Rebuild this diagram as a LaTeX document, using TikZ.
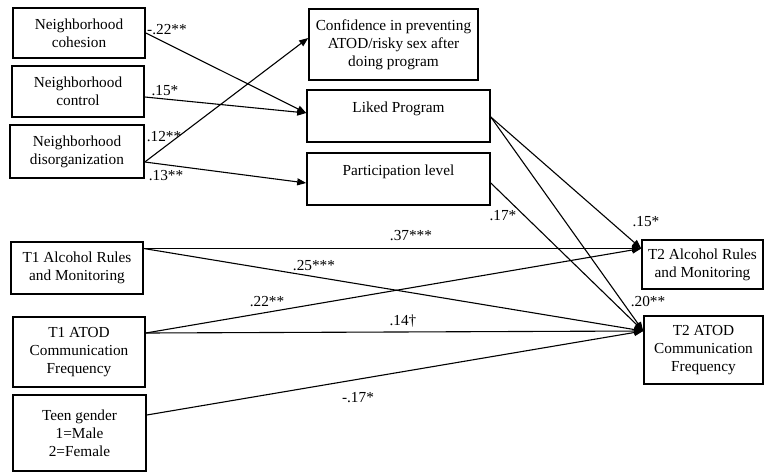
\documentclass[tikz,border=0pt]{standalone}
\usepackage{fontspec}
\setmainfont{Liberation Serif}
\usetikzlibrary{arrows.meta}
\begin{document}
\begin{tikzpicture}[x=1pt,y=-1pt,
  box/.style={draw, line width=1.6pt, align=center, inner sep=0pt,
    font=\fontsize{15.3}{18}\selectfont},
  pth/.style={-{Triangle[length=9pt,width=7pt]}, line width=1.1pt},
  coef/.style={font=\fontsize{15.3}{18}\selectfont, inner sep=0pt}]
\useasboundingbox (0,0) rectangle (766,472);
% left column
\node[box, minimum width=132pt, minimum height=50pt] (coh) at (79,33) {Neighborhood\\cohesion};
\node[box, minimum width=132pt, minimum height=51pt] (ctl) at (78,91.5) {Neighborhood\\control};
\node[box, minimum width=134pt, minimum height=53pt] (dis) at (77,151.5) {Neighborhood\\disorganization};
\node[box, minimum width=132pt, minimum height=52pt] (t1alc) at (77,268) {T1 Alcohol Rules\\and Monitoring};
\node[box, minimum width=132pt, minimum height=70pt] (t1atod) at (79,352) {T1 ATOD\\Communication\\Frequency};
\node[box, minimum width=133pt, minimum height=76pt] (gen) at (79.5,433) {Teen gender\\1=Male\\2=Female};
% middle column
\node[box, minimum width=169pt, minimum height=71pt] (conf) at (393.5,44.5) {Confidence in preventing\\ATOD/risky sex after\\doing program};
\node[box, minimum width=183pt, minimum height=52pt] (liked) at (398.5,116) {Liked Program\\\mbox{}};
\node[box, minimum width=183pt, minimum height=52pt] (part) at (398.5,179) {Participation level\\\mbox{}};
% right column
\node[box, minimum width=121pt, minimum height=49pt] (t2alc) at (702.5,264.5) {T2 Alcohol Rules\\and Monitoring};
\node[box, minimum width=119pt, minimum height=68pt] (t2atod) at (703.5,350) {T2 ATOD\\Communication\\Frequency};
% connection points
\coordinate (ctlout) at ([yshift=-5.5pt]ctl.east);
\coordinate (disout) at ([yshift=-10.5pt]dis.east);
\coordinate (likedin) at ([yshift=3pt]liked.west);
\coordinate (confin) at ([yshift=6.5pt]conf.west);
\coordinate (partin) at ([yshift=-4pt]part.west);
\coordinate (partout) at ([yshift=-4pt]part.east);
\coordinate (likedout) at ([yshift=-1pt]liked.east);
\coordinate (t1alcout) at ([yshift=19.5pt]t1alc.east);
\coordinate (t1atodout) at ([yshift=19pt]t1atod.east);
\coordinate (genout) at ([yshift=18pt]gen.east);
\coordinate (t2alcin) at ([yshift=16pt]t2alc.west);
\coordinate (t2atodin) at ([yshift=19pt]t2atod.west);
% paths
\draw[pth] (coh.east) -- (likedin);
\draw[pth] (ctlout) -- (likedin);
\draw[pth] (disout) -- (confin);
\draw[pth] (disout) -- (partin);
\draw[pth] (likedout) -- (t2alcin);
\draw[pth] (likedout) -- (t2atodin);
\draw[pth] (partout) -- (t2atodin);
\draw[pth] (t1alcout) -- (t2alcin);
\draw[pth] (t1alcout) -- (t2atodin);
\draw[pth] (t1atodout) -- (t2alcin);
\draw[pth] (t1atodout) -- (t2atodin);
\draw[pth] (genout) -- (t2atodin);
% coefficients
\node[coef] (c1) at (167,30) {-.22**};
\node[coef] (c2) at (165,91) {.15*};
\node[coef] (c3) at (164,137) {.12**};
\node[coef] (c4) at (166,176) {.13**};
\node[coef] (c5) at (503,216) {.17*};
\node[coef] (c6) at (646,222) {.15*};
\node[coef] (c7) at (411,236) {.37***};
\node[coef] (c8) at (314,266) {.25***};
\node[coef] (c9) at (267,302) {.22**};
\node[coef] (c10) at (403,321) {.14†};
\node[coef] (c11) at (648,302) {.20**};
\node[coef] (c12) at (358,398) {-.17*};
\end{tikzpicture}
\end{document}
